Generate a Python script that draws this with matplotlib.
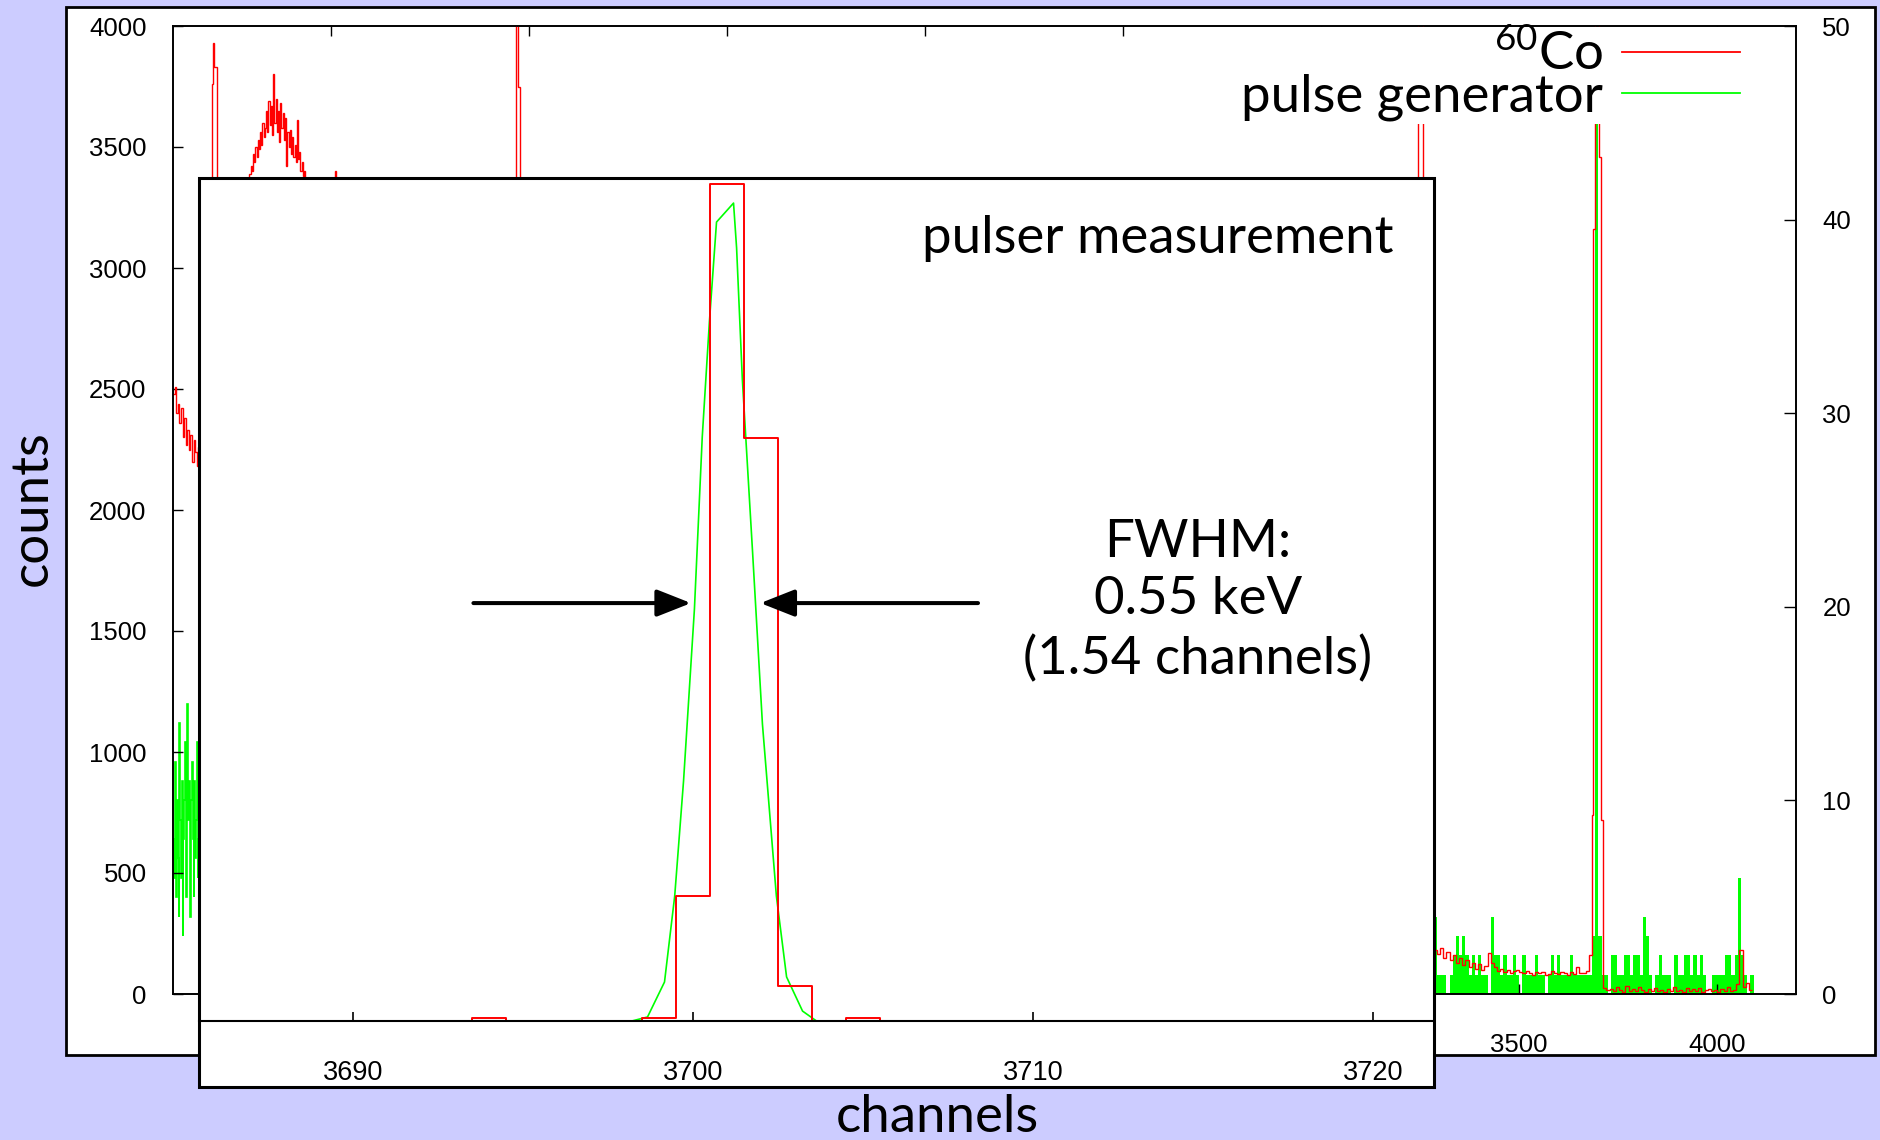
import numpy as np
import matplotlib.pyplot as plt
from matplotlib.patches import Rectangle
from matplotlib.lines import Line2D

plt.rcParams['font.family'] = ['Liberation Sans', 'DejaVu Sans']
plt.rcParams['mathtext.fontset'] = 'custom'
plt.rcParams['mathtext.rm'] = 'Lato'
plt.rcParams['mathtext.it'] = 'Lato:italic'

# ---- full spectrum, 60Co (counts, left axis) ----
# bin starts of each piece, last bin ends at co_end
co_strip_start = np.arange(100, 168, 4)
co_strip = [2480, 2510, 2400, 2440, 2360, 2420, 2300, 2380, 2270, 2330,
            2250, 2310, 2200, 2290, 2240, 2180, 2260]
co_spike_start = [168, 198, 202, 204, 210]
co_spike = [2300, 3760, 3930, 3830, 3000]
co_bump_start = np.arange(290, 440, 3)
co_bump = [3360, 3390, 3420, 3400, 3470, 3440, 3500, 3460, 3530, 3490,
           3560, 3510, 3600, 3540, 3580, 3650, 3560, 3690, 3590, 3670,
           3550, 3800, 3600, 3700, 3560, 3650, 3520, 3680, 3580, 3640,
           3530, 3620, 3420, 3560, 3500, 3570, 3470, 3540, 3460, 3510,
           3440, 3610, 3450, 3480, 3400, 3440, 3380, 3400, 3350, 3330]
co_mid_start = [440, 510, 513, 966, 971, 976, 1500, 2500, 3245, 3258]
co_mid = [3100, 3400, 2500, 4300, 3750, 1800, 900, 400, 4300, 200]
co_tail_start = np.arange(3285, 3685, 8)
co_tail = [180, 165, 190, 150, 175, 140, 160, 130, 150, 120,
           140, 110, 130, 105, 125, 100, 115, 170, 130, 110,
           95, 105, 90, 100, 88, 95, 100, 92, 86, 94,
           88, 80, 92, 85, 90, 78, 84, 95, 88, 82,
           90, 86, 80, 92, 84, 110, 85, 88, 95, 160]
co_peak_start = [3685, 3687, 3693, 3703, 3707]
co_peak = [740, 3160, 4500, 3460, 720]
co_high_start = np.arange(3713, 4089, 8)
co_high = [25, 15, 20, 12, 30, 18, 10, 35, 14, 22,
           12, 28, 16, 10, 20, 14, 24, 12, 18, 10,
           22, 14, 30, 12, 18, 10, 24, 14, 20, 12,
           26, 10, 16, 22, 12, 18, 10, 20, 14, 28,
           12, 18, 40, 180, 30, 45, 15]
co_end = 4089

# ---- full spectrum, pulse generator (counts, right axis) ----
pg_strip_edges = np.arange(100, 168, 2)
pg_strip = [8, 6, 9, 12, 5, 10, 7, 4, 14, 9, 6, 11, 3, 8, 10, 13, 7,
            5, 15, 9, 11, 6, 4, 10, 12, 8, 5, 11, 7, 9, 13, 6, 8]
pg_edges = np.arange(3285, 4094, 8)
pg_counts = [4, 1, 1, 1, 0, 1, 2, 3, 2, 3,
             2, 1, 2, 1, 2, 1, 1, 0, 4, 2,
             2, 1, 2, 1, 1, 2, 1, 0, 2, 1,
             1, 1, 2, 1, 1, 0, 1, 2, 1, 2,
             1, 1, 1, 2, 1, 1, 1, 1, 1, 1,
             3, 46, 3, 1, 1, 0, 2, 2, 1, 1,
             2, 2, 1, 2, 2, 1, 4, 3, 1, 0,
             1, 2, 1, 1, 1, 0, 2, 1, 1, 2,
             2, 1, 2, 1, 2, 1, 0, 0, 1, 1,
             1, 1, 2, 2, 1, 2, 6, 2, 1, 0,
             1]

# ---- inset: pulser measurement ----
in_co_ch = [3693, 3694, 3695, 3696, 3697, 3698, 3699, 3700, 3701, 3702,
            3703, 3704, 3705, 3706]
in_co = [0, 15, 0, 0, 0, 0, 15, 593, 3972, 2766, 166, 0, 15, 0]
in_pg_ch = [3698.2, 3698.66, 3699.16, 3699.46, 3699.72, 3700.04, 3700.27,
            3700.48, 3700.69, 3701.19, 3701.28, 3701.45, 3701.75, 3702.04,
            3702.45, 3702.75, 3703.22, 3703.63]
in_pg = [0, 19, 185, 593, 1139, 1955, 2771, 3317, 3791, 3881, 3668, 3042,
         2225, 1409, 593, 209, 47, 0]
fwhm_y = 1983
fwhm_left = (3693.54, 3699.94)
fwhm_right = (3708.38, 3701.98)

W, H = 1881, 1140


def fbox(x0, y0, x1, y1):
    # pixel box, origin top left -> figure fraction
    return [x0 / W, 1 - y1 / H, (x1 - x0) / W, (y1 - y0) / H]


fig = plt.figure(figsize=(W / 100, H / 100), dpi=100, facecolor='#ccccff')

b = fbox(66, 7, 1875, 1055)
fig.add_artist(Rectangle((b[0], b[1]), b[2], b[3], transform=fig.transFigure,
                         fc='white', ec='black', lw=2, zorder=-1))

ax = fig.add_axes(fbox(173, 26, 1796, 994))
ax_r = ax.twinx()
ax.set_zorder(2)
ax_r.set_zorder(1)
ax.patch.set_visible(False)
ax_r.patch.set_visible(True)
ax_r.patch.set_facecolor('white')

co_edges = np.concatenate([co_strip_start, co_spike_start, co_bump_start,
                           co_mid_start, co_tail_start, co_peak_start,
                           co_high_start, [co_end]])
co_counts = co_strip + co_spike + co_bump + co_mid + co_tail + co_peak + co_high
ax.stairs(co_counts, co_edges, baseline=None, color='red', lw=1.0)

ax_r.stairs(pg_strip, pg_strip_edges, baseline=None, color='#00ff00', lw=1.2)
ax_r.stairs(pg_counts, pg_edges, fill=True, color='#00ff00')

ax.set_xlim(100, 4200)
ax.set_ylim(0, 4000)
ax_r.set_ylim(0, 50)
ax.set_xticks(np.arange(500, 4001, 500))
ax.set_yticks(np.arange(0, 4001, 500))
ax_r.set_yticks(np.arange(0, 51, 10))
ax.set_axisbelow(True)
ax.tick_params(axis='both', direction='in', length=7, width=1, labelsize=18.5)
ax.tick_params(axis='x', top=True, pad=28)
ax.tick_params(axis='y', pad=19)
ax_r.tick_params(axis='y', direction='in', length=9, width=1, labelsize=18.5, pad=19)
for a in (ax, ax_r):
    for s in a.spines.values():
        s.set_linewidth(1.2)

handles = [Line2D([], [], color='red', lw=1.3), Line2D([], [], color='#00ff00', lw=1.3)]
labels = [r'$^{60}$Co', 'pulse generator']
ax.legend(handles, labels, loc='upper right', bbox_to_anchor=(1743 / W, 1 - 27 / H),
          bbox_transform=fig.transFigure, markerfirst=False,
          prop={'family': 'Lato', 'size': 38}, handlelength=2.24, handletextpad=0.36,
          labelspacing=-0.1, borderpad=0.05, borderaxespad=0, frameon=True,
          fancybox=False, framealpha=1, facecolor='white', edgecolor='none')

# inset
b = fbox(199, 178, 1434, 1087)
fig.add_artist(Rectangle((b[0], b[1]), b[2], b[3], transform=fig.transFigure,
                         fc='white', ec='black', lw=2.2, zorder=5))
axi = fig.add_axes(fbox(199, 178, 1434, 1021))
axi.set_zorder(6)
axi.patch.set_visible(False)
for side in ('top', 'left', 'right'):
    axi.spines[side].set_visible(False)
axi.spines['bottom'].set_linewidth(1.5)

axi.plot(in_pg_ch, in_pg, color='#00ff00', lw=1.2)
axi.step(in_co_ch, in_co, where='mid', color='red', lw=1.4)

axi.set_xlim(3685.47, 3721.79)
axi.set_ylim(0, 4000)
axi.set_xticks([3690, 3700, 3710, 3720])
axi.set_yticks([])
axi.tick_params(axis='x', direction='in', length=6.5, width=1.2, labelsize=19.5, pad=28)
for lab in axi.get_xticklabels():
    lab.set_family(['Liberation Sans Narrow', 'Liberation Sans'])

for x0, x1 in (fwhm_left, fwhm_right):
    axi.annotate('', xy=(x1, fwhm_y), xytext=(x0, fwhm_y),
                 arrowprops=dict(arrowstyle='-|>,head_length=2.1,head_width=0.83',
                                 color='black', lw=2.9, shrinkA=0, shrinkB=0,
                                 mutation_scale=10))

# baseline of the last line
axi.text(3714.85, 1647, 'FWHM:\n0.55 keV\n(1.54 channels)', ha='center', va='baseline',
         multialignment='center', family='Lato', fontsize=38, linespacing=1.28)
axi.text(0.9676, 0.911, 'pulser measurement', transform=axi.transAxes, ha='right',
         va='baseline', family='Lato', fontsize=38)

fig.text(32 / W, 1 - 508 / H, 'counts', rotation=90, ha='center', va='center',
         family='Lato', fontsize=38)
fig.text(937 / W, 1 - 1132 / H, 'channels', ha='center', va='baseline',
         family='Lato', fontsize=38)

fig.savefig('out.png', dpi=100, facecolor=fig.get_facecolor())
